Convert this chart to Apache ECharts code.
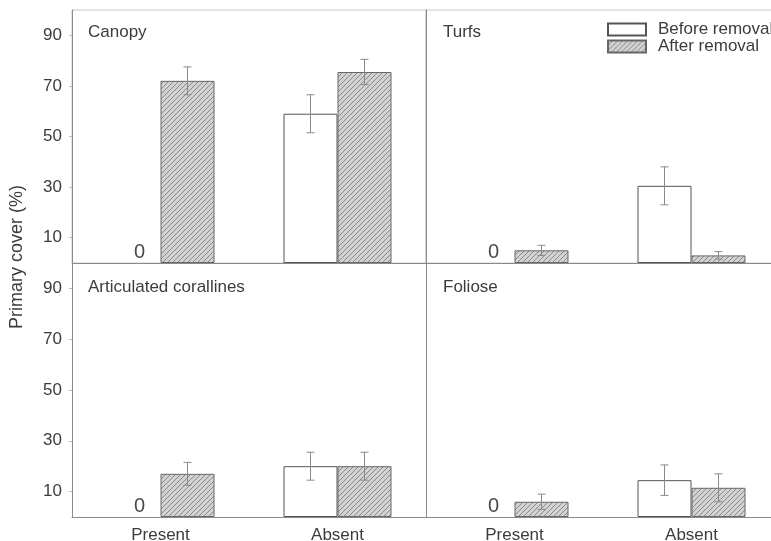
<!DOCTYPE html>
<html>
<head>
<meta charset="utf-8">
<script src="https://cdn.jsdelivr.net/npm/echarts@6/dist/echarts.min.js"></script>
<style>
html,body{margin:0;padding:0;background:#fff;}
#chart{width:771px;height:541px;}
</style>
</head>
<body>
<div id="chart"></div>
<script>
// ---- data ----
var categories = ['Present', 'Absent'];
var yTicks = [10, 30, 50, 70, 90];
var panelTitles = ['Canopy', 'Turfs', 'Articulated corallines', 'Foliose'];
var seriesNames = ['Before removal', 'After removal'];

var canopyBefore = [0, 59];
var canopyAfter = [72, 75.5];
var canopyBeforeErr = [0, 7.5];
var canopyAfterErr = [5.5, 5];

var turfsBefore = [0, 30.5];
var turfsAfter = [5, 3];
var turfsBeforeErr = [0, 7.5];
var turfsAfterErr = [2, 1.5];

var corallinesBefore = [0, 20];
var corallinesAfter = [17, 20];
var corallinesBeforeErr = [0, 5.5];
var corallinesAfterErr = [4.5, 5.5];

var folioseBefore = [0, 14.5];
var folioseAfter = [6, 11.5];
var folioseBeforeErr = [0, 6];
var folioseAfterErr = [3, 5.5];

var panels = [
  {before: canopyBefore, after: canopyAfter, bErr: canopyBeforeErr, aErr: canopyAfterErr},
  {before: turfsBefore, after: turfsAfter, bErr: turfsBeforeErr, aErr: turfsAfterErr},
  {before: corallinesBefore, after: corallinesAfter, bErr: corallinesBeforeErr, aErr: corallinesAfterErr},
  {before: folioseBefore, after: folioseAfter, bErr: folioseBeforeErr, aErr: folioseAfterErr}
];

// ---- hatch pattern ----
function makeHatch() {
  var c = document.createElement('canvas');
  c.width = 5; c.height = 5;
  var ctx = c.getContext('2d');
  ctx.fillStyle = '#d2d2d2';
  ctx.fillRect(0, 0, 5, 5);
  ctx.strokeStyle = '#8a8a8a';
  ctx.lineWidth = 1;
  ctx.beginPath();
  ctx.moveTo(-1, 6); ctx.lineTo(6, -1);
  ctx.moveTo(-6, 6); ctx.lineTo(1, -1);
  ctx.moveTo(4, 6); ctx.lineTo(11, -1);
  ctx.stroke();
  return c;
}
var hatch = {image: makeHatch(), repeat: 'repeat'};

var FONT = 'Liberation Sans, Arial, sans-serif';
var TXT = '#3c3c3c';
var AXIS = '#8a8a8a';
var BAR_W = 54;

var gridDefs = [
  {left: 72, top: 10, width: 354, height: 253},
  {left: 426, top: 10, width: 354, height: 253},
  {left: 72, top: 263, width: 354, height: 254},
  {left: 426, top: 263, width: 354, height: 254}
];

var grids = [], xAxes = [], yAxes = [], series = [], titles = [];
var titlePos = [[88, 24], [443, 24], [88, 279], [443, 279]];

gridDefs.forEach(function (g, i) {
  grids.push({left: g.left, top: g.top, width: g.width, height: g.height,
    show: i < 2, borderColor: '#c8c8c8', borderWidth: 1, containLabel: false,
    outerBoundsMode: 'none'});
  xAxes.push({
    type: 'category', gridIndex: i, data: categories,
    axisLine: {show: true, lineStyle: {color: AXIS, width: 1}},
    axisTick: {show: false},
    axisLabel: {show: i >= 2, fontSize: 17, color: TXT, fontFamily: FONT, margin: 10}
  });
  yAxes.push({
    type: 'value', gridIndex: i, min: 0, max: 100,
    splitLine: {show: false},
    axisLine: {show: true, lineStyle: {color: AXIS, width: 1}},
    axisTick: {show: i % 2 === 0, length: 3, lineStyle: {color: '#bbb'}, customValues: yTicks},
    axisLabel: {show: i % 2 === 0, fontSize: 17, color: TXT, fontFamily: FONT, margin: 10, customValues: yTicks}
  });
  titles.push({text: panelTitles[i], left: titlePos[i][0], top: titlePos[i][1], padding: 0,
    textStyle: {fontSize: 17, fontWeight: 'normal', color: TXT, fontFamily: FONT}});

  var p = panels[i];
  series.push({
    name: seriesNames[0], type: 'bar', xAxisIndex: i, yAxisIndex: i,
    data: p.before.map(function (v) {
      return v === 0 ? {value: v, itemStyle: {borderWidth: 0}} : v;
    }),
    barWidth: BAR_W, barGap: '0%',
    itemStyle: {color: '#fff', borderColor: '#555', borderWidth: 1},
    label: {show: true, position: 'top', distance: 1, offset: [6, 0], fontSize: 20, color: '#4a4a4a', fontFamily: FONT,
      formatter: function (d) { return d.value === 0 ? '0' : ''; }},
    silent: true
  });
  series.push({
    name: seriesNames[1], type: 'bar', xAxisIndex: i, yAxisIndex: i,
    data: p.after, barWidth: BAR_W, barGap: '0%',
    itemStyle: {color: hatch, borderColor: '#666', borderWidth: 1},
    silent: true
  });
  var errData = [];
  for (var k = 0; k < categories.length; k++) {
    errData.push([k, p.before[k], p.bErr[k], 0]);
    errData.push([k, p.after[k], p.aErr[k], 1]);
  }
  series.push({
    type: 'custom', xAxisIndex: i, yAxisIndex: i, data: errData, z: 10, silent: true,
    renderItem: function (params, api) {
      var err = api.value(2);
      if (!err) return null;
      var cat = api.value(0), v = api.value(1), which = api.value(3);
      var off = which === 0 ? -BAR_W / 2 : BAR_W / 2;
      var hi = api.coord([cat, v + err]);
      var lo = api.coord([cat, v - err]);
      var x = hi[0] + off;
      var cap = 4;
      var st = {stroke: '#8a8a8a', lineWidth: 1};
      return {type: 'group', children: [
        {type: 'line', shape: {x1: x, y1: hi[1], x2: x, y2: lo[1]}, style: st},
        {type: 'line', shape: {x1: x - cap, y1: hi[1], x2: x + cap, y2: hi[1]}, style: st},
        {type: 'line', shape: {x1: x - cap, y1: lo[1], x2: x + cap, y2: lo[1]}, style: st}
      ]};
    }
  });
});

var chart = echarts.init(document.getElementById('chart'), null, {renderer: 'canvas'});
chart.setOption({
  backgroundColor: '#fff',
  animation: false,
  title: titles,
  legend: {
    data: seriesNames, orient: 'vertical', left: 607, top: 21, padding: 0,
    icon: 'rect',
    itemWidth: 38, itemHeight: 12, itemGap: 0,
    textStyle: {fontSize: 17, color: TXT, fontFamily: FONT, padding: [0, 0, 0, 7]},
    selectedMode: false
  },
  grid: grids,
  xAxis: xAxes,
  yAxis: yAxes,
  series: series,
  graphic: [{
    type: 'text', left: 8, top: 185, rotation: Math.PI / 2,
    style: {text: 'Primary cover (%)', fontSize: 18, fill: TXT, fontFamily: FONT}
  }]
});
</script>
</body>
</html>
